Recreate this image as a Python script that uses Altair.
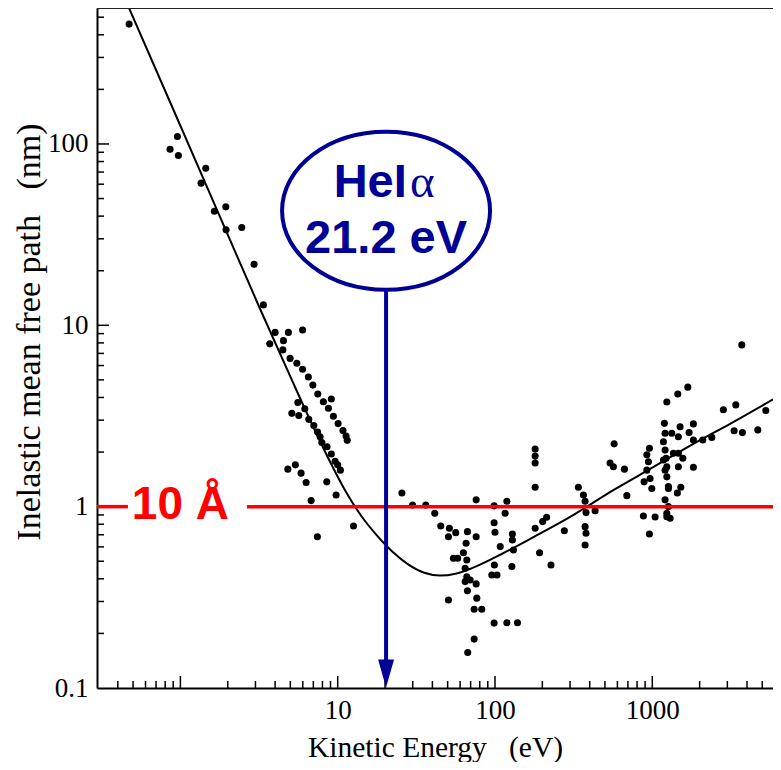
import altair as alt
import pandas as pd

# ---------------- data ----------------
dot_energy = [0.472, 0.957, 0.86, 0.971, 1.45, 1.354, 1.944, 1.645, 2.455, 1.952, 2.94, 3.37,
              4.0, 4.86, 5.98, 3.70, 4.52, 4.48, 4.98, 5.50, 5.98, 6.51, 6.95, 7.47, 8.11, 9.11,
              8.73, 9.39, 10.06, 10.8, 11.3, 11.5, 5.58, 5.11, 5.66, 6.18, 6.55, 7.05, 7.45, 7.73,
              7.93, 8.56, 9.11, 9.63, 10.0, 10.4, 4.82, 5.38, 5.85, 6.30, 8.52, 9.77, 6.78, 12.6, 7.43,
              25.6, 29.9, 36.3, 41.4, 45.2, 51.3, 56.3, 50.6, 66.8, 75.9, 75.9, 65.5, 63.0, 54.4, 57.9,
              66.2, 64.6, 66.2, 69.5, 75.9, 64.6, 66.8, 76.6, 50.6, 73.7, 82.4, 98.7, 119, 139, 73.7,
              67.1, 98.7, 119, 116, 98.7, 100, 108, 99.1, 95.4, 103, 129, 129, 131, 128, 180, 180,
              201, 213, 192, 227, 276, 180, 180, 180, 339, 365, 374, 379, 433, 374, 379, 572, 539,
              566, 665, 689, 878, 959, 1042, 1237, 1194, 1452, 1206, 1177, 959, 923, 945, 923, 887,
              968, 993, 1206, 1224, 1237, 1237, 1266, 1206, 1266, 1237, 1298, 1465, 1465, 3707, 1682,
              2831, 3396, 5266, 1502, 1825, 1714, 1330, 1825, 2094, 2390, 3313, 3740, 4686, 1362,
              1563, 1177, 1465, 1825, 1206, 1266, 1518, 1444, 1237, 374]
dot_imfp = [458, 110, 93.6, 86.3, 73.5, 60.8, 45.0, 42.6, 34.6, 33.6, 21.7, 12.96,
            9.14, 9.14, 9.43, 7.90, 8.23, 7.32, 6.57, 6.17, 5.73, 5.19, 4.68, 4.18, 3.79, 3.92,
            3.49, 3.15, 2.87, 2.63, 2.45, 2.32, 3.75, 3.27, 3.18, 3.47, 3.03, 2.80, 2.58, 2.43,
            2.26, 2.14, 1.95, 1.78, 1.70, 1.59, 1.61, 1.70, 1.53, 1.36, 1.37, 1.16, 1.08, 0.782, 0.683,
            1.19, 1.02, 1.02, 0.92, 0.782, 0.76, 0.719, 0.683, 0.728, 0.683, 1.09, 0.629, 0.557, 0.519, 0.519,
            0.508, 0.457, 0.411, 0.394, 0.375, 0.386, 0.344, 0.313, 0.306, 0.272, 0.272, 0.228, 0.229, 0.229, 0.186,
            0.157, 1.01, 1.07, 0.92, 0.816, 0.722, 0.602, 0.477, 0.42, 0.42, 0.707, 0.655, 0.577, 0.467, 1.28, 0.76,
            0.827, 0.874, 0.557, 0.477, 0.737, 2.08, 1.90, 1.74, 1.28, 1.16, 1.07, 0.927, 0.95, 0.776, 0.713, 2.22, 1.74,
            1.66, 1.61, 1.15, 0.889, 0.707, 0.877, 3.78, 2.88, 4.18, 2.54, 2.28, 2.10, 1.93, 1.77, 1.59, 1.37,
            1.43, 1.26, 2.05, 1.85, 1.66, 1.46, 1.26, 1.09, 1.0, 0.881, 0.863, 2.43, 1.97, 7.80, 4.56,
            3.42, 3.64, 3.39, 2.76, 2.86, 2.56, 2.54, 2.33, 2.33, 2.41, 2.62, 2.56, 2.65, 1.97,
            1.85, 1.81, 1.66, 1.65, 1.59, 1.29, 1.28, 1.19, 0.92, 0.615]

curve_energy = [0.468, 1, 2, 3.16, 5.01, 7.08, 8.91, 11.2, 14.1, 17.8, 22.4, 28.2, 35.5, 44.7,
                56.2, 70.8, 100, 178, 316, 562, 1000, 1778, 3162, 6683]
curve_imfp = [570, 126, 31.6, 12.7, 5.19, 2.69, 1.78, 1.22, 0.891, 0.692, 0.562, 0.479, 0.432, 0.417,
              0.427, 0.457, 0.525, 0.684, 0.902, 1.23, 1.64, 2.19, 2.88, 4.17]

x_domain = [0.295, 5853]
y_domain = [0.1, 562]
x_label_values = [10, 100, 1000]
y_label_values = [0.1, 1, 10, 100]
x_major_ticks = [1, 10, 100, 1000]
x_minor_ticks = [0.4, 0.5, 0.6, 0.7, 0.8, 0.9, 2, 3, 4, 5, 6, 7, 8, 9, 20, 30, 40, 50, 60, 70, 80, 90,
                 200, 300, 400, 500, 600, 700, 800, 900, 2000, 3000, 4000, 5000]
y_major_ticks = [1, 10, 100]
y_minor_ticks = [0.2, 0.3, 0.4, 0.5, 0.6, 0.7, 0.8, 0.9, 2, 3, 4, 5, 6, 7, 8, 9,
                 20, 30, 40, 50, 60, 70, 80, 90, 200, 300, 400, 500]

# annotations
line_10A_nm = 1.0
line_10A_gap = [0.464, 2.65]
label_10A = "10 Å"
label_10A_pos = (1.0, 0.855)
photon_energy = 20.3
ellipse_nm = 42.8
arrow_top_nm = 15.7
arrow_bottom_nm = 0.139
arrowhead_nm = 0.1202
label_he_pos = (27.5, 51.3)
label_alpha_pos = (28.8, 51.3)
label_ev_pos = (20.3, 25.0)

W, H = 676, 680
BLUE = "#000096"
RED = "#ff0000"
SERIF = "Liberation Serif"
SANS = "Liberation Sans"

xs = alt.Scale(type="log", domain=x_domain, nice=False, clamp=False)
ys = alt.Scale(type="log", domain=y_domain, nice=False, clamp=False)

x_axis = alt.Axis(values=x_label_values, format="~g", ticks=False, tickSize=0, grid=False,
                  domain=True, domainColor="black", domainWidth=2,
                  labelFont=SERIF, labelFontSize=27, labelColor="black", labelPadding=9,
                  labelFlush=False, labelOverlap=False,
                  title="Kinetic Energy\u00a0\u00a0\u00a0(eV)", titleFont=SERIF, titleFontSize=29.5,
                  titleFontWeight="normal", titleColor="black", titleY=68, titleBaseline="alphabetic")
y_axis = alt.Axis(values=y_label_values, format="~g", ticks=False, tickSize=0, grid=False,
                  domain=True, domainColor="black", domainWidth=2,
                  labelFont=SERIF, labelFontSize=27, labelColor="black", labelPadding=9,
                  labelFlush=False, labelOverlap=False,
                  title="Inelastic mean free path\u00a0\u00a0\u00a0(nm)", titleFont=SERIF, titleFontSize=34,
                  titleFontWeight="normal", titleColor="black", titleAngle=270, titleX=-58, titleY=323.5,
                  titleAlign="center", titleBaseline="alphabetic")

dots_df = pd.DataFrame({"E": dot_energy, "L": dot_imfp})
curve_df = pd.DataFrame({"E": curve_energy, "L": curve_imfp})


def X(field="E"):
    return alt.X(f"{field}:Q", scale=xs, axis=x_axis)


def Y(field="L"):
    return alt.Y(f"{field}:Q", scale=ys, axis=y_axis)


dots = alt.Chart(dots_df).mark_circle(size=50, color="black", opacity=1).encode(x=X(), y=Y())

curve = alt.Chart(curve_df).mark_line(color="black", strokeWidth=2, clip=True,
                                      interpolate="monotone").encode(x=X(), y=Y())

# inward ticks and top frame
xt_major = alt.Chart(pd.DataFrame({"E": x_major_ticks})).mark_rule(color="black", strokeWidth=1.5).encode(
    x=X(), y=alt.value(H), y2=alt.value(H - 12))
xt_minor = alt.Chart(pd.DataFrame({"E": x_minor_ticks})).mark_rule(color="black", strokeWidth=1.5).encode(
    x=X(), y=alt.value(H), y2=alt.value(H - 7))
yt_major = alt.Chart(pd.DataFrame({"L": y_major_ticks})).mark_rule(color="black", strokeWidth=1.5).encode(
    y=Y(), x=alt.value(0), x2=alt.value(12))
yt_minor = alt.Chart(pd.DataFrame({"L": y_minor_ticks})).mark_rule(color="black", strokeWidth=1.5).encode(
    y=Y(), x=alt.value(0), x2=alt.value(7))
top_frame = alt.Chart(pd.DataFrame({"a": [0]})).mark_rule(color="#222222", strokeWidth=2).encode(
    x=alt.value(0), x2=alt.value(W), y=alt.value(0))

# red 10 Å line
red_df = pd.DataFrame({"E": [x_domain[0], line_10A_gap[1]], "E2": [line_10A_gap[0], x_domain[1]],
                       "L": [line_10A_nm, line_10A_nm]})
red_line = alt.Chart(red_df).mark_rule(color=RED, strokeWidth=3.5).encode(
    x=X(), x2="E2:Q", y=Y())
red_text = alt.Chart(pd.DataFrame({"E": [label_10A_pos[0]], "L": [label_10A_pos[1]], "t": [label_10A]})).mark_text(
    font=SANS, fontSize=46, fontWeight="bold", color=RED, align="center", baseline="alphabetic").encode(
    x=X(), y=Y(), text="t:N")

# blue HeIα annotation
ELLIPSE = "M -1 0 A 1 0.76 0 1 1 1 0 A 1 0.76 0 1 1 -1 0 Z"
ARROWHEAD = "M -0.57 -1 L 0.57 -1 L 0 1 Z"
ellipse = alt.Chart(pd.DataFrame({"E": [photon_energy], "L": [ellipse_nm]})).mark_point(
    shape=ELLIPSE, size=208 * 208, filled=False, stroke=BLUE, strokeWidth=4, opacity=1).encode(x=X(), y=Y())
arrow = alt.Chart(pd.DataFrame({"E": [photon_energy], "L": [arrow_top_nm], "L2": [arrow_bottom_nm]})).mark_rule(
    color=BLUE, strokeWidth=4).encode(x=X(), y=Y(), y2="L2:Q")
head = alt.Chart(pd.DataFrame({"E": [photon_energy], "L": [arrowhead_nm]})).mark_point(
    shape=ARROWHEAD, size=28 * 28, filled=True, fill=BLUE, color=BLUE, strokeWidth=0, opacity=1).encode(x=X(), y=Y())
he_text = alt.Chart(pd.DataFrame({"E": [label_he_pos[0]], "L": [label_he_pos[1]], "t": ["HeI"]})).mark_text(
    font=SANS, fontSize=47, fontWeight="bold", color=BLUE, align="right", baseline="alphabetic").encode(
    x=X(), y=Y(), text="t:N")
alpha_text = alt.Chart(pd.DataFrame({"E": [label_alpha_pos[0]], "L": [label_alpha_pos[1]], "t": ["α"]})).mark_text(
    font=SERIF, fontSize=47, fontWeight="normal", color=BLUE, align="left", baseline="alphabetic").encode(
    x=X(), y=Y(), text="t:N")
ev_text = alt.Chart(pd.DataFrame({"E": [label_ev_pos[0]], "L": [label_ev_pos[1]], "t": ["21.2 eV"]})).mark_text(
    font=SANS, fontSize=47, fontWeight="bold", color=BLUE, align="center", baseline="alphabetic").encode(
    x=X(), y=Y(), text="t:N")

chart = alt.layer(
    dots, curve, xt_major, xt_minor, yt_major, yt_minor, top_frame,
    red_line, red_text, ellipse, arrow, head, he_text, alpha_text, ev_text,
).properties(
    width=W, height=H,
    autosize=alt.AutoSizeParams(type="none"),
    padding={"left": 89, "top": 0, "right": 0, "bottom": 74},
    background="white",
).configure_view(stroke=None)

chart.save("out.html", embed_options={"renderer": "svg", "actions": False})
